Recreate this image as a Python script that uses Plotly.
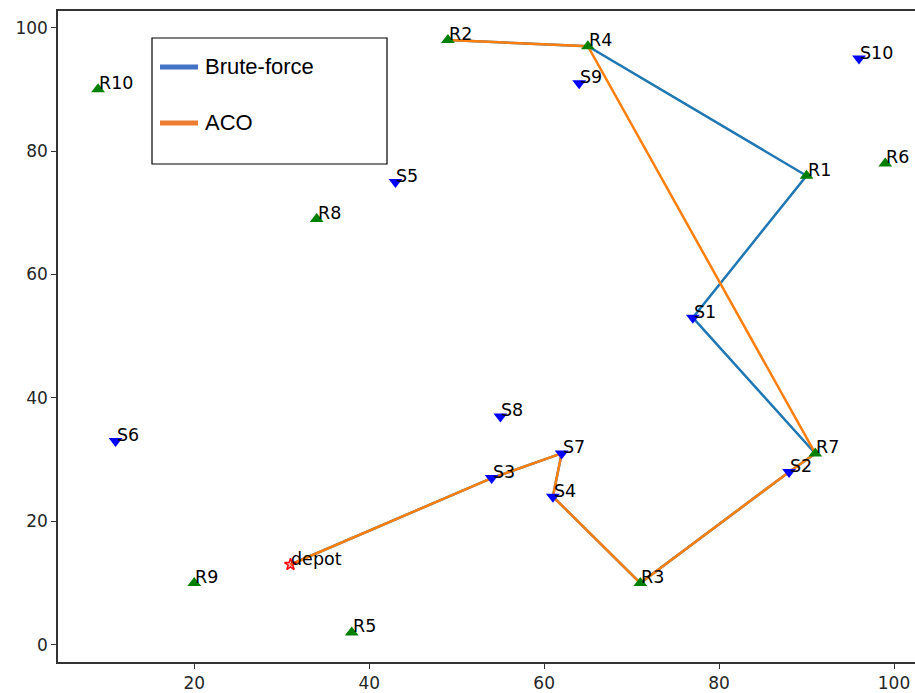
import plotly.graph_objects as go

# Node data
r_names = ["R1", "R2", "R3", "R4", "R5", "R6", "R7", "R8", "R9", "R10"]
r_x = [90, 49, 71, 65, 38, 99, 91, 34, 20, 9]
r_y = [76, 98, 10, 97, 2, 78, 31, 69, 10, 90]

s_names = ["S1", "S2", "S3", "S4", "S5", "S6", "S7", "S8", "S9", "S10"]
s_x = [77, 88, 54, 61, 43, 11, 62, 55, 64, 96]
s_y = [53, 28, 27, 24, 75, 33, 31, 37, 91, 95]

depot_name = "depot"
depot_x = [31]
depot_y = [13]

# Routes (sequence of node names)
brute_route = ["depot", "S3", "S7", "S4", "R3", "S2", "R7", "S1", "R1", "R4", "R2"]
aco_route = ["depot", "S3", "S7", "S4", "R3", "S2", "R7", "R4", "R2"]

legend_labels = ["Brute-force", "ACO"]

coords = {"depot": (depot_x[0], depot_y[0])}
for n, x, y in zip(r_names, r_x, r_y):
    coords[n] = (x, y)
for n, x, y in zip(s_names, s_x, s_y):
    coords[n] = (x, y)

FONT = "DejaVu Sans"
fig = go.Figure()

def route_xy(route):
    return [coords[n][0] for n in route], [coords[n][1] for n in route]

bx, by = route_xy(brute_route)
ax, ay = route_xy(aco_route)
fig.add_trace(go.Scatter(x=bx, y=by, mode="lines", line=dict(color="#1f77b4", width=2.5),
                         showlegend=False, hoverinfo="skip"))
fig.add_trace(go.Scatter(x=ax, y=ay, mode="lines", line=dict(color="#ff7f0e", width=2.5),
                         showlegend=False, hoverinfo="skip"))

fig.add_trace(go.Scatter(x=r_x, y=r_y, mode="markers",
                         marker=dict(symbol="triangle-up", size=12, color="#008000"),
                         showlegend=False))
fig.add_trace(go.Scatter(x=s_x, y=s_y, mode="markers",
                         marker=dict(symbol="triangle-down", size=12, color="#0000ff"),
                         showlegend=False))
fig.add_trace(go.Scatter(x=depot_x, y=depot_y, mode="markers",
                         marker=dict(symbol="star", size=9, color="rgba(255,0,0,0.25)",
                                     line=dict(color="#ff0000", width=1.5)),
                         showlegend=False))

annotations = []
for n in ["depot"] + r_names + s_names:
    x, y = coords[n]
    annotations.append(dict(x=x, y=y, xref="x", yref="y", text=n, showarrow=False,
                            xanchor="left", yanchor="bottom", xshift=-1, yshift=-6,
                            font=dict(family=FONT, size=17.5, color="black")))

# Legend box (drawn manually)
W, H = 915, 693
ml, mr, mt, mb = 58, 0, 11, 31
pw, ph = W - ml - mr, H - mt - mb

def px(xp):
    return (xp - ml) / pw

def py(yp):
    return 1 - (yp - mt) / ph

shapes = [
    dict(type="rect", xref="paper", yref="paper", x0=px(152), x1=px(387), y0=py(164), y1=py(38),
         line=dict(color="black", width=1.2), fillcolor="white", layer="above"),
]
leg_colors = ["#4472C4", "#ED7D31"]
leg_y = [67, 123]
for lab, c, yy in zip(legend_labels, leg_colors, leg_y):
    shapes.append(dict(type="line", xref="paper", yref="paper", x0=px(160), x1=px(198),
                       y0=py(yy), y1=py(yy), line=dict(color=c, width=5), layer="above"))
    annotations.append(dict(x=px(203), y=py(yy - 1), xref="paper", yref="paper", text=lab,
                            showarrow=False, xanchor="left", yanchor="middle",
                            font=dict(family="Liberation Sans", size=22, color="black")))

fig.update_layout(
    width=W, height=H,
    margin=dict(l=ml, r=mr, t=mt, b=mb),
    paper_bgcolor="white", plot_bgcolor="white",
    shapes=shapes, annotations=annotations,
    showlegend=False,
    xaxis=dict(range=[4.42, 102.4], tickvals=[20, 40, 60, 80, 100], showgrid=False, zeroline=False,
               showline=True, linecolor="#333333", linewidth=1.5, mirror=True,
               ticks="outside", ticklen=5, tickcolor="#333333",
               tickfont=dict(family=FONT, size=17, color="#262626")),
    yaxis=dict(range=[-2.8, 102.7], tickvals=[0, 20, 40, 60, 80, 100], showgrid=False, zeroline=False,
               showline=True, linecolor="#333333", linewidth=1.5,
               ticks="outside", ticklen=5, tickcolor="#333333",
               tickfont=dict(family=FONT, size=17, color="#262626")),
)

fig.write_html("out.html", config={"displayModeBar": False},
               post_script="document.body.style.margin='0';document.body.style.overflow='hidden';")
